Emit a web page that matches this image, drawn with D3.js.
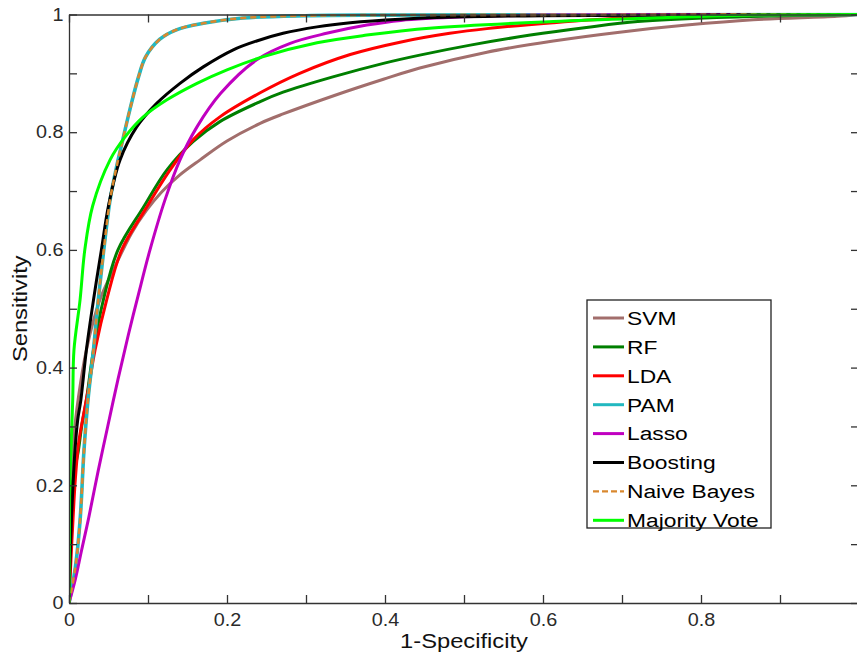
<!DOCTYPE html>
<html>
<head>
<meta charset="utf-8">
<script src="https://cdn.jsdelivr.net/npm/d3@7"></script>
<style>
  html, body { margin: 0; padding: 0; background: #fff; }
  svg { display: block; font-family: "Liberation Sans", Arial, Helvetica, sans-serif; }
</style>
</head>
<body>
<div id="chart"></div>
<script>
// ROC curves: [1-specificity, sensitivity] pairs
const svmPts = [[0,0],[0.001,0.1],[0.003,0.2],[0.006,0.28],[0.012,0.35],[0.022,0.43],[0.039,0.515],[0.058,0.571],[0.079,0.628],[0.098,0.667],[0.117,0.698],[0.14,0.727],[0.166,0.753],[0.2,0.785],[0.242,0.815],[0.271,0.831],[0.335,0.862],[0.398,0.89],[0.444,0.909],[0.529,0.936],[0.613,0.955],[0.697,0.97],[0.782,0.982],[0.866,0.991],[0.972,0.997],[1,1]];
const rfPts = [[0,0],[0.001,0.1],[0.004,0.2],[0.012,0.26],[0.016,0.3],[0.022,0.345],[0.031,0.43],[0.0435,0.515],[0.062,0.6],[0.094,0.672],[0.124,0.736],[0.157,0.784],[0.191,0.818],[0.242,0.852],[0.271,0.868],[0.334,0.894],[0.398,0.917],[0.444,0.931],[0.508,0.948],[0.584,0.965],[0.655,0.978],[0.72,0.988],[0.82,0.995],[1,1]];
const ldaPts = [[0,0],[0.002,0.06],[0.005,0.14],[0.008,0.21],[0.012,0.27],[0.017,0.31],[0.024,0.36],[0.033,0.43],[0.0477,0.515],[0.0667,0.6],[0.0962,0.668],[0.128,0.736],[0.157,0.787],[0.191,0.826],[0.242,0.867],[0.292,0.9],[0.356,0.932],[0.419,0.953],[0.482,0.968],[0.529,0.976],[0.613,0.986],[0.7,0.994],[0.8,0.998],[1,1]];
const pamPts = [[0,0],[0.008,0.06],[0.014,0.14],[0.019,0.26],[0.024,0.345],[0.031,0.43],[0.037,0.515],[0.044,0.6],[0.052,0.685],[0.06,0.74],[0.067,0.781],[0.077,0.838],[0.088,0.894],[0.097,0.928],[0.115,0.958],[0.136,0.974],[0.17,0.985],[0.22,0.994],[0.3,0.998],[0.4,0.999],[0.7,0.9995],[1,1]];
const lassoPts = [[0,0],[0.008,0.04],[0.016,0.09],[0.025,0.145],[0.037,0.225],[0.049,0.3],[0.062,0.38],[0.075,0.455],[0.088,0.525],[0.1025,0.6],[0.1215,0.685],[0.1405,0.753],[0.162,0.809],[0.192,0.866],[0.2376,0.923],[0.28,0.951],[0.326,0.968],[0.377,0.982],[0.42,0.99],[0.5,0.996],[0.6,0.999],[1,1]];
const boostPts = [[0,0],[0.002,0.1],[0.004,0.17],[0.0076,0.26],[0.011,0.311],[0.015,0.345],[0.022,0.43],[0.031,0.515],[0.041,0.6],[0.05,0.675],[0.0646,0.753],[0.0857,0.809],[0.111,0.849],[0.1405,0.883],[0.17,0.911],[0.208,0.94],[0.2376,0.955],[0.271,0.968],[0.314,0.979],[0.356,0.986],[0.419,0.992],[0.5,0.996],[0.6,0.998],[1,1]];
const nbPts = [[0,0],[0.008,0.06],[0.014,0.14],[0.019,0.26],[0.024,0.345],[0.031,0.43],[0.037,0.515],[0.044,0.6],[0.052,0.685],[0.06,0.74],[0.067,0.781],[0.077,0.838],[0.088,0.894],[0.097,0.928],[0.115,0.958],[0.136,0.974],[0.17,0.985],[0.22,0.994],[0.3,0.998],[0.4,0.999],[0.7,0.9995],[1,1]];
const votePts = [[0,0],[0.0005,0.1],[0.001,0.2],[0.0025,0.26],[0.0047,0.345],[0.0063,0.43],[0.014,0.515],[0.02,0.6],[0.03,0.675],[0.052,0.753],[0.071,0.792],[0.094,0.826],[0.124,0.855],[0.162,0.883],[0.2,0.906],[0.245,0.928],[0.314,0.952],[0.377,0.965],[0.46,0.977],[0.613,0.988],[0.74,0.994],[0.87,0.999],[1,1]];

const seriesNames = ['SVM', 'RF', 'LDA', 'PAM', 'Lasso', 'Boosting', 'Naive Bayes', 'Majority Vote'];
const seriesData = [svmPts, rfPts, ldaPts, pamPts, lassoPts, boostPts, nbPts, votePts];
const seriesColors = ['#a26e6c', '#007f00', '#ff0000', '#22b8c0', '#c000c0', '#000000', '#d9882e', '#00ff00'];

const xTicks = [0, 0.1, 0.2, 0.3, 0.4, 0.5, 0.6, 0.7, 0.8, 0.9, 1];
const yTicks = [0, 0.1, 0.2, 0.3, 0.4, 0.5, 0.6, 0.7, 0.8, 0.9, 1];

const W = 857, H = 657;
const plotL = 69, plotR = 859, plotT = 14.5, plotB = 603;

const svg = d3.select('#chart').append('svg')
    .attr('width', W).attr('height', H);

const x = d3.scaleLinear().domain([0, 1]).range([plotL, plotR]);
const y = d3.scaleLinear().domain([0, 1]).range([plotB, plotT]);

// labels on every other tick; the x "1" falls past the right edge of the figure
const labelFmt = d => (Math.round(d * 10) % 2 === 0) ? String(+d.toFixed(1)) : '';
const xLabelFmt = d => d >= 1 ? '' : labelFmt(d);

svg.append('defs').append('clipPath').attr('id', 'plotClip')
    .append('rect')
    .attr('x', plotL).attr('y', plotT - 2)
    .attr('width', plotR - plotL + 2).attr('height', plotB - plotT + 2);

// curves
const line = d3.line()
    .x(d => x(d[0]))
    .y(d => y(d[1]))
    .curve(d3.curveCatmullRom.alpha(0.5));

const plot = svg.append('g').attr('clip-path', 'url(#plotClip)');
seriesData.forEach((pts, i) => {
    const dashed = seriesNames[i] === 'Naive Bayes';
    plot.append('path')
        .datum(pts)
        .attr('fill', 'none')
        .attr('stroke', seriesColors[i])
        .attr('stroke-width', dashed ? 2.6 : (seriesNames[i] === 'PAM' ? 3.6 : 3))
        .attr('stroke-dasharray', dashed ? '6,4' : null)
        .attr('stroke-linejoin', 'round')
        .attr('d', line);
});

// axes, MATLAB style box with inward ticks on all sides
const axisColor = '#333';
function styleAxis(g) {
    g.select('.domain').attr('stroke', axisColor).attr('stroke-width', 1.3);
    g.selectAll('.tick line').attr('stroke', axisColor).attr('stroke-width', 1.3);
    g.selectAll('.tick text').attr('fill', '#2a2a2a').style('font-size', '18px')
        .style('font-family', '"Liberation Sans", Arial, sans-serif')
        .attr('transform', 'scale(1.1,1)');
}

svg.append('g')
    .attr('transform', `translate(0,${plotB})`)
    .call(d3.axisBottom(x).tickValues(xTicks).tickFormat(xLabelFmt).tickSizeInner(-8).tickSizeOuter(0).tickPadding(10))
    .call(styleAxis);

svg.append('g')
    .attr('transform', `translate(${plotL},0)`)
    .call(d3.axisLeft(y).tickValues(yTicks).tickFormat(labelFmt).tickSizeInner(-8).tickSizeOuter(0).tickPadding(5))
    .call(styleAxis);

svg.append('g')
    .attr('transform', `translate(0,${plotT})`)
    .call(d3.axisTop(x).tickValues(xTicks).tickFormat('').tickSizeInner(-8).tickSizeOuter(0))
    .call(styleAxis);

svg.append('g')
    .attr('transform', `translate(${plotR},0)`)
    .call(d3.axisRight(y).tickValues(yTicks).tickFormat('').tickSizeInner(-8).tickSizeOuter(0))
    .call(styleAxis);

// axis titles
svg.append('text')
    .attr('transform', `translate(${x(0.5)},648) scale(1.13,1)`)
    .attr('text-anchor', 'middle')
    .style('font-size', '21px').attr('fill', '#111')
    .text('1-Specificity');

svg.append('text')
    .attr('transform', `translate(27,${(plotT + plotB) / 2}) rotate(-90) scale(1.13,1)`)
    .attr('text-anchor', 'middle')
    .style('font-size', '21px').attr('fill', '#111')
    .text('Sensitivity');

// legend
const lg = svg.append('g').attr('transform', 'translate(587,300)');
lg.append('rect')
    .attr('width', 184).attr('height', 228)
    .attr('fill', '#fff').attr('stroke', '#222').attr('stroke-width', 1.3);

seriesNames.forEach((name, i) => {
    const cy = 18 + i * 28.9;
    const dashed = name === 'Naive Bayes';
    lg.append('line')
        .attr('x1', 6).attr('x2', 37).attr('y1', cy).attr('y2', cy)
        .attr('stroke', seriesColors[i])
        .attr('stroke-width', dashed ? 2.2 : 3)
        .attr('stroke-dasharray', dashed ? '6,3' : null);
    lg.append('text')
        .attr('transform', `translate(40,${cy}) scale(1.2,1)`)
        .attr('dy', '0.36em')
        .style('font-size', '19px').attr('fill', '#000')
        .text(name);
});
</script>
</body>
</html>
